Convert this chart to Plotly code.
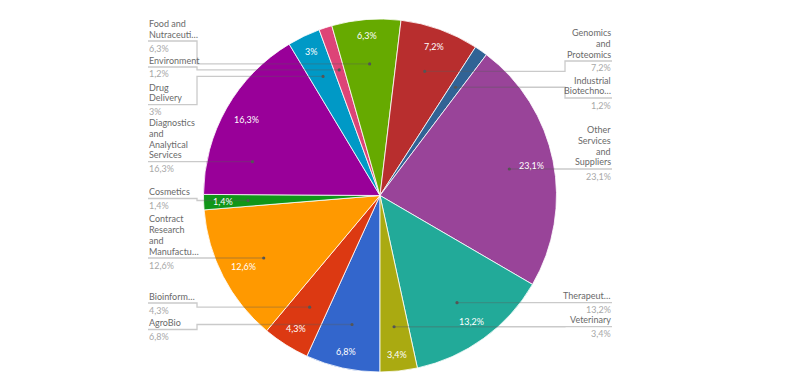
import math
import plotly.graph_objects as go

# ---------------- data ----------------
categories = [
    "AgroBio", "Bioinformatics", "Contract Research and Manufacturing", "Cosmetics",
    "Diagnostics and Analytical Services", "Drug Delivery", "Environment",
    "Food and Nutraceuticals", "Genomics and Proteomics", "Industrial Biotechnology",
    "Other Services and Suppliers", "Therapeutics", "Veterinary",
]
values = [6.8, 4.3, 12.6, 1.4, 16.3, 3.0, 1.2, 6.3, 7.2, 1.2, 23.1, 13.2, 3.4]
label_lines = [
    ["AgroBio"], ["Bioinform…"], ["Contract", "Research", "and", "Manufactu…"], ["Cosmetics"],
    ["Diagnostics", "and", "Analytical", "Services"], ["Drug", "Delivery"], ["Environment"],
    ["Food and", "Nutraceuti…"], ["Genomics", "and", "Proteomics"], ["Industrial", "Biotechno…"],
    ["Other", "Services", "and", "Suppliers"], ["Therapeut…"], ["Veterinary"],
]
colors = ["#3366CC", "#DC3912", "#FF9900", "#109618", "#990099", "#0099C6", "#DD4477",
          "#66AA00", "#B82E2E", "#316395", "#994499", "#22AA99", "#AAAA11"]

# ---------------- layout (screen pixels) ----------------
W, H = 800, 376
OFF = 8  # page body margin offset of the plot div
CX, CY, R = 380.0, 195.5, 176.5
ROTATION = 180
DOT_R = 132.0
LEFT_X, LEFT_ELBOW = 148.0, 197.0
RIGHT_X, RIGHT_ELBOW = 612.0, 565.0
# y of each label's underline (label placement)
label_line_y = [329.5, 303, 258, 198.5, 161.7, 104.7, 67, 41, 61, 98, 169, 302.7, 326.7]
LINE_H = 10.7
FONT = "Lato"
FS = 9
NAME_COLOR = "#6a6a6a"
VALUE_COLOR = "#a8a8a8"
LEADER_COLOR = "rgba(90,90,90,0.32)"
MIN_INSIDE = 1.3


def px(x):
    return (x - OFF) / W


def py(y):
    return 1 - (y - OFF) / H


def fmt(v):
    s = f"{v:.1f}".replace(".", ",")
    if s.endswith(",0"):
        s = s[:-2]
    return s + "%"


def point(theta_deg, r):
    t = math.radians(theta_deg)
    return CX + r * math.sin(t), CY - r * math.cos(t)


fig = go.Figure(go.Pie(
    labels=categories, values=values, sort=False, direction="clockwise",
    rotation=ROTATION, textinfo="none", hoverinfo="label+percent",
    marker=dict(colors=colors, line=dict(color="rgba(255,255,255,0.8)", width=1)),
    domain=dict(x=[px(CX - R), px(CX + R)], y=[py(CY + R), py(CY - R)]),
    showlegend=False,
))

total = sum(values)
annotations = []
shapes = []
start = ROTATION
for i, v in enumerate(values):
    span = v / total * 360
    a0, a1 = start, start + span
    mid = (a0 + a1) / 2
    start = a1
    text = fmt(v)

    # inside percentage label
    if v > MIN_INSIDE:
        t = math.radians(mid)
        hw = 2.2 * len(text)
        hh = 5.0
        r = R - 10.5 - (abs(math.sin(t)) * hw + abs(math.cos(t)) * hh)
        x, y = point(mid, r)
        annotations.append(dict(x=px(x), y=py(y), xref="paper", yref="paper",
                                text=text, showarrow=False, xanchor="center", yanchor="middle",
                                font=dict(family=FONT, size=FS, color="white")))

    # outside label
    m = mid % 360
    left = m >= 180
    U = label_line_y[i]
    dx, dy = point(mid, DOT_R)
    if span >= 45 and abs(U - CY) < DOT_R:
        hx = math.sqrt(DOT_R ** 2 - (U - CY) ** 2)
        cand_x = CX - hx if left else CX + hx
        ang = math.degrees(math.atan2(cand_x - CX, -(U - CY))) % 360
        lo, hi = a0 % 360, a1 % 360
        inside = (lo <= ang <= hi) if lo <= hi else (ang >= lo or ang <= hi)
        if inside:
            dx, dy = cand_x, U
    ex = LEFT_ELBOW if left else RIGHT_ELBOW
    lx = LEFT_X if left else RIGHT_X
    path = (f"M {px(lx)},{py(U)} L {px(ex)},{py(U)} L {px(ex)},{py(dy)} "
            f"L {px(dx)},{py(dy)}")
    shapes.append(dict(type="path", path=path, xref="paper", yref="paper",
                       line=dict(color=LEADER_COLOR, width=1.3)))
    rd = 1.6
    shapes.append(dict(type="circle", xref="paper", yref="paper",
                       x0=px(dx - rd), x1=px(dx + rd), y0=py(dy + rd), y1=py(dy - rd),
                       fillcolor="#555555", line=dict(width=0)))
    lines = label_lines[i]
    n = len(lines)
    anchor = "left" if left else "right"
    for j, ln in enumerate(lines):
        yy = U - 7 - (n - 1 - j) * LINE_H
        annotations.append(dict(x=px(lx), y=py(yy), xref="paper", yref="paper", text=ln,
                                showarrow=False, xanchor=anchor, yanchor="middle",
                                borderpad=0,
                                font=dict(family=FONT, size=FS, color=NAME_COLOR)))
    annotations.append(dict(x=px(lx), y=py(U + 7), xref="paper", yref="paper", text=text,
                            showarrow=False, xanchor=anchor, yanchor="middle", borderpad=0,
                            font=dict(family=FONT, size=FS, color=VALUE_COLOR)))

fig.update_layout(
    width=W, height=H, margin=dict(l=0, r=0, t=0, b=0),
    paper_bgcolor="white", plot_bgcolor="white",
    annotations=annotations, shapes=shapes,
    font=dict(family=FONT, size=FS),
)
fig.write_html("out.html")
